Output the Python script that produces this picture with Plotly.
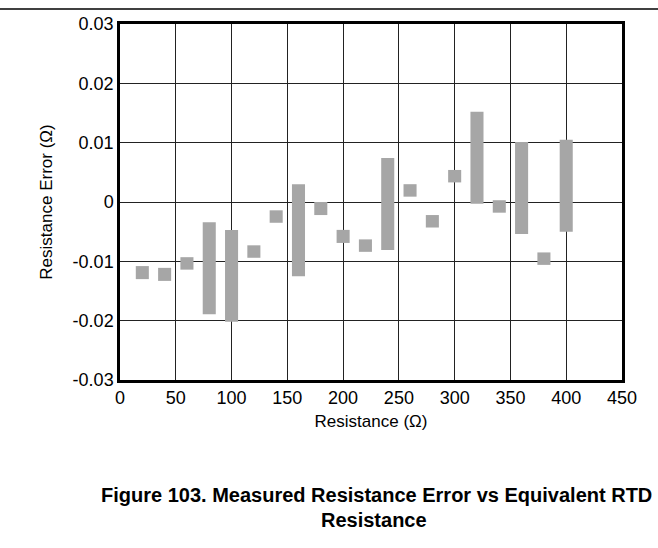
import plotly.graph_objects as go

resistance = [20, 40, 60, 80, 100, 120, 140, 160, 180, 200,
              220, 240, 260, 280, 300, 320, 340, 360, 380, 400]
err_low = [-0.0130, -0.0133, -0.0114, -0.0189, -0.0202, -0.0094, -0.0035, -0.0125, -0.0022, -0.0069,
           -0.0084, -0.0081, 0.0009, -0.0043, 0.0033, -0.0003, -0.0018, -0.0054, -0.0106, -0.0050]
err_high = [-0.0108, -0.0111, -0.0093, -0.0034, -0.0047, -0.0073, -0.0014, 0.0030, 0.0000, -0.0047,
            -0.0063, 0.0074, 0.0030, -0.0022, 0.0054, 0.0152, 0.0003, 0.0101, -0.0085, 0.0105]

x_ticks = [0, 50, 100, 150, 200, 250, 300, 350, 400, 450]
y_ticks = [-0.03, -0.02, -0.01, 0, 0.01, 0.02, 0.03]
y_tick_text = ["-0.03", "-0.02", "-0.01", "0", "0.01", "0.02", "0.03"]

title_line1 = "Figure 103. Measured Resistance Error vs Equivalent RTD"
title_line2 = "Resistance"

fig = go.Figure()
fig.add_trace(go.Bar(
    x=resistance,
    base=err_low,
    y=[h - l for h, l in zip(err_high, err_low)],
    width=11.7,
    marker=dict(color="#a6a6a6", line=dict(width=0)),
    hoverinfo="skip",
))

font_family = "Liberation Sans, Arial, sans-serif"

fig.update_layout(
    width=658, height=548,
    margin=dict(l=120, r=36, t=24, b=168),
    paper_bgcolor="white", plot_bgcolor="white",
    showlegend=False,
    font=dict(family=font_family, size=18, color="black"),
    xaxis=dict(
        range=[0, 450], tickvals=x_ticks, ticktext=[str(v) for v in x_ticks],
        showgrid=True, gridcolor="#222222", gridwidth=1,
        showline=True, linecolor="black", linewidth=2.5, mirror=True,
        ticks="", zeroline=False,
        title=dict(text="Resistance (\u03a9)", font=dict(size=17), standoff=8),
        tickfont=dict(size=18),
    ),
    yaxis=dict(
        range=[-0.03, 0.03], tickvals=y_ticks, ticktext=y_tick_text,
        showgrid=True, gridcolor="#222222", gridwidth=1,
        showline=True, linecolor="black", linewidth=2.5, mirror=True,
        ticks="", zeroline=False,
        title=dict(text="Resistance Error (\u03a9)", font=dict(size=17), standoff=16),
        tickfont=dict(size=18),
    ),
    shapes=[dict(type="line", xref="paper", yref="paper",
                 x0=-0.24, x1=1.075, y0=1.042, y1=1.042,
                 line=dict(color="black", width=1.5))],
    annotations=[
        dict(text="<b>" + title_line1 + "</b>",
             xref="paper", yref="paper", x=0.511, y=-0.322,
             xanchor="center", yanchor="middle", showarrow=False,
             font=dict(size=20, family=font_family, color="black")),
        dict(text="<b>" + title_line2 + "</b>",
             xref="paper", yref="paper", x=0.505, y=-0.392,
             xanchor="center", yanchor="middle", showarrow=False,
             font=dict(size=20, family=font_family, color="black")),
    ],
)

fig.write_html("out.html", config={"displayModeBar": False},
               post_script="document.body.style.margin='0px';")
